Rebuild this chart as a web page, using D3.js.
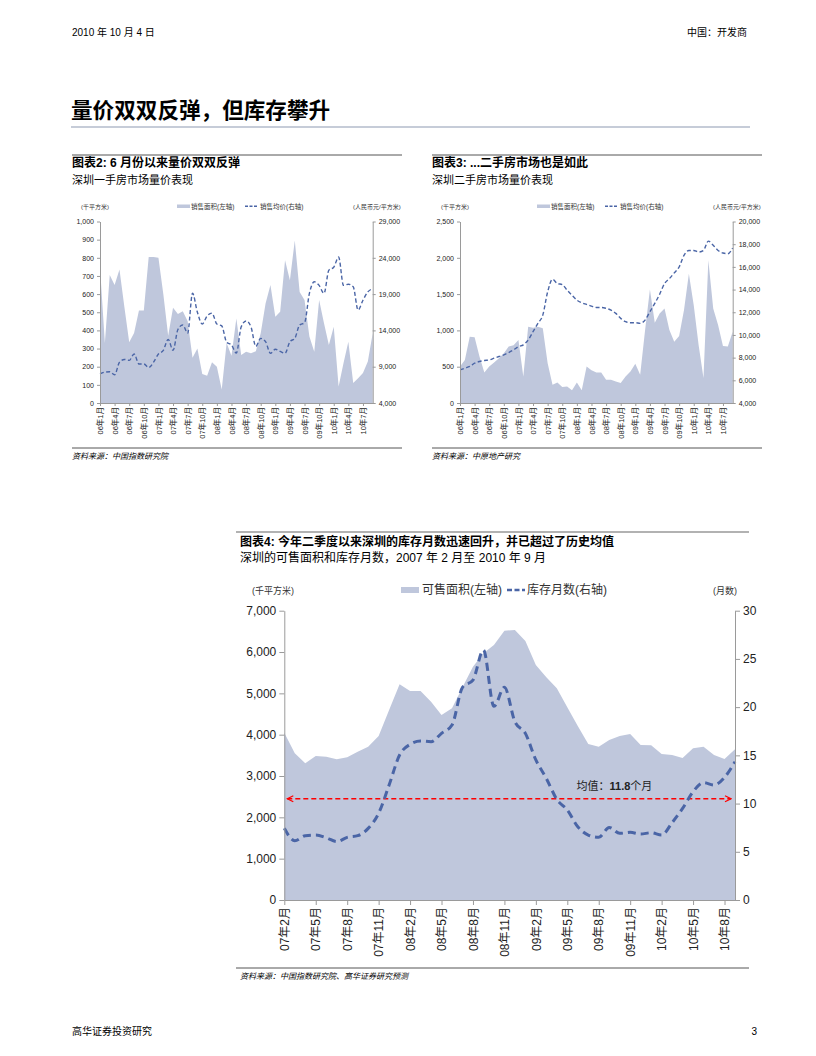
<!DOCTYPE html>
<html><head><meta charset="utf-8">
<script src="https://cdn.jsdelivr.net/npm/d3@7"></script>
<style>
body{margin:0;background:#fff}
svg text{font-family:"Liberation Sans",Arial,"Noto Sans CJK SC",sans-serif}
</style></head><body>
<svg id="c" width="816" height="1056"></svg>
<script>
// ---------- data ----------
const months06 = ["06年1月","06年2月","06年3月","06年4月","06年5月","06年6月","06年7月","06年8月","06年9月","06年10月","06年11月","06年12月",
"07年1月","07年2月","07年3月","07年4月","07年5月","07年6月","07年7月","07年8月","07年9月","07年10月","07年11月","07年12月",
"08年1月","08年2月","08年3月","08年4月","08年5月","08年6月","08年7月","08年8月","08年9月","08年10月","08年11月","08年12月",
"09年1月","09年2月","09年3月","09年4月","09年5月","09年6月","09年7月","09年8月","09年9月","09年10月","09年11月","09年12月",
"10年1月","10年2月","10年3月","10年4月","10年5月","10年6月","10年7月","10年8月","10年9月"];
const ticks06 = ["06年1月","06年4月","06年7月","06年10月","07年1月","07年4月","07年7月","07年10月","08年1月","08年4月","08年7月","08年10月","09年1月","09年4月","09年7月","09年10月","10年1月","10年4月","10年7月"];

// 图表2 深圳一手房
const newArea = [750,330,705,650,735,530,335,385,510,510,805,805,800,600,370,525,490,505,450,250,300,160,150,225,200,75,330,260,466,265,283,274,285,384,548,650,475,503,786,677,896,612,567,366,283,567,439,320,420,91,219,338,110,137,165,229,384];
const newPrice = [8000,8250,8300,7875,9625,10000,9875,10750,9375,9375,8875,9625,10750,11250,12750,11250,14125,14750,13625,19125,16500,14875,16000,16375,14875,14625,12375,12000,10875,14500,15300,14500,11800,12900,12450,10850,11400,11100,10850,12450,12900,14750,15050,19100,20700,20200,19100,22300,22700,24100,20200,20350,20000,16800,18150,19300,19750];
const newLeftTicks = [0,100,200,300,400,500,600,700,800,900,1000];
const newRightTicks = [4000,9000,14000,19000,24000,29000];

// 图表3 深圳二手房
const oldArea = [503,594,914,905,640,420,503,558,617,686,777,795,868,365,1051,1037,1051,1028,548,251,283,219,228,174,283,174,503,450,420,420,320,320,297,274,366,434,539,388,1000,1563,1106,1234,1302,1005,845,923,1280,1782,1348,800,343,1965,1302,1074,786,777,983];
const oldPrice = [6925,7070,7220,7510,7660,7745,7800,7950,8100,8240,8445,8680,8970,9120,9560,10290,11020,11750,13800,14910,14530,14440,13945,13500,13070,12830,12690,12540,12420,12420,12340,12190,11900,11460,11170,11080,11080,11020,11310,12040,12780,13590,14530,14970,15470,15990,17020,17450,17450,17310,17450,18270,17900,17450,17220,17160,17660];
const oldLeftTicks = [0,500,1000,1500,2000,2500];
const oldRightTicks = [4000,6000,8000,10000,12000,14000,16000,18000,20000];

// 图表4 可售面积 & 库存月数
const months07 = ["07年2月","07年3月","07年4月","07年5月","07年6月","07年7月","07年8月","07年9月","07年10月","07年11月","07年12月",
"08年1月","08年2月","08年3月","08年4月","08年5月","08年6月","08年7月","08年8月","08年9月","08年10月","08年11月","08年12月",
"09年1月","09年2月","09年3月","09年4月","09年5月","09年6月","09年7月","09年8月","09年9月","09年10月","09年11月","09年12月",
"10年1月","10年2月","10年3月","10年4月","10年5月","10年6月","10年7月","10年8月","10年9月"];
const ticks07 = ["07年2月","07年5月","07年8月","07年11月","08年2月","08年5月","08年8月","08年11月","09年2月","09年5月","09年8月","09年11月","10年2月","10年5月","10年8月"];
const stockArea = [4049,3549,3307,3484,3468,3403,3452,3589,3710,3968,4597,5218,5057,5057,4798,4476,4637,5145,5645,5968,6170,6516,6532,6266,5686,5387,5121,4662,4210,3774,3710,3871,3968,4016,3750,3742,3532,3508,3436,3670,3710,3508,3411,3645];
const stockMonths = [7.43,6.15,6.67,6.74,6.46,6.05,6.50,6.67,7.43,8.99,11.92,15.03,16.14,16.49,16.42,17.28,18.14,22.05,22.81,25.92,20.08,22.05,18.49,17.28,14.52,12.61,10.44,9.33,7.60,6.74,6.50,7.53,6.91,7.02,6.84,6.98,6.74,8.02,9.50,11.23,12.17,11.92,12.72,14.34];
const stockLeftTicks = [0,1000,2000,3000,4000,5000,6000,7000];
const stockRightTicks = [0,5,10,15,20,25,30];
const avgValue = 11.8;       // 均值 label
const avgArrowLevel = 10.5;  // level at which the arrow is drawn in the source

// ---------- styles ----------
const AREA = "#bfc7dc";
const LINE = "#4a65a6";
const AXIS = "#9a9a9a";
const svg = d3.select("#c");
const fmt = d3.format(",");

function styleAxis(g, fs){
  g.select(".domain").attr("stroke", AXIS);
  g.selectAll(".tick line").attr("stroke", AXIS);
  g.selectAll(".tick text").attr("fill","#222").style("font-size", fs+"px");
}

// ---------- page text ----------
svg.append("text").attr("x",72).attr("y",36).style("font-size","10px").text("2010 年 10 月 4 日");
svg.append("text").attr("x",747).attr("y",36).attr("text-anchor","end").style("font-size","10px").text("中国：开发商");
svg.append("text").attr("x",71).attr("y",118).style("font-size","21.6px").style("font-weight","bold").text("量价双双反弹，但库存攀升");
svg.append("line").attr("x1",71).attr("x2",750).attr("y1",127).attr("y2",127).attr("stroke","#b3bbcb").attr("stroke-width",1.5);
svg.append("text").attr("x",72).attr("y",1035).style("font-size","10px").text("高华证券投资研究");
svg.append("text").attr("x",757).attr("y",1035).attr("text-anchor","end").style("font-size","10px").text("3");

// ---------- small dual-axis chart ----------
function smallChart(o){
  const g = svg.append("g");
  g.append("line").attr("x1",o.hx0).attr("x2",o.hx1).attr("y1",155).attr("y2",155).attr("stroke","#555").attr("stroke-width",1);
  g.append("text").attr("x",o.hx0).attr("y",167).style("font-size","12px").style("font-weight","bold").text(o.title);
  g.append("text").attr("x",o.hx0).attr("y",184).style("font-size","11px").text(o.sub);
  g.append("line").attr("x1",o.hx0).attr("x2",o.hx1).attr("y1",448).attr("y2",448).attr("stroke","#555").attr("stroke-width",1);
  g.append("text").attr("x",o.hx0).attr("y",459).style("font-size","8px").style("font-style","italic").text(o.src);

  const x = d3.scalePoint().domain(months06).range([o.L,o.R]);
  const yL = d3.scaleLinear().domain([0,o.lmax]).range([o.B,o.T]);
  const yR = d3.scaleLinear().domain([4000,o.rmax]).range([o.B,o.T]);

  g.append("path").datum(o.area)
    .attr("d", d3.area().x((d,i)=>x(months06[i])).y0(yL(0)).y1(d=>yL(d)))
    .attr("fill",AREA);
  g.append("path").datum(o.line)
    .attr("d", d3.line().x((d,i)=>x(months06[i])).y(d=>yR(d)).curve(d3.curveMonotoneX))
    .attr("fill","none").attr("stroke",LINE).attr("stroke-width",1.4).attr("stroke-dasharray","4,2.5");

  const ax = g.append("g").attr("transform",`translate(0,${o.B})`)
    .call(d3.axisBottom(x).tickValues(ticks06).tickSize(3).tickSizeOuter(0));
  styleAxis(ax,7.5);
  ax.selectAll(".tick text").attr("transform","rotate(-90)").attr("x",-4).attr("y",0).attr("dy","0.35em").attr("text-anchor","end");
  const al = g.append("g").attr("transform",`translate(${o.L},0)`)
    .call(d3.axisLeft(yL).tickValues(o.lt).tickFormat(fmt).tickSize(3).tickSizeOuter(0));
  styleAxis(al,7);
  const ar = g.append("g").attr("transform",`translate(${o.R},0)`)
    .call(d3.axisRight(yR).tickValues(o.rt).tickFormat(fmt).tickSize(3).tickSizeOuter(0));
  styleAxis(ar,7);

  const ly = o.T-13;
  g.append("text").attr("x",o.L-19).attr("y",ly).style("font-size","6px").attr("fill","#333").text("(千平方米)");
  g.append("text").attr("x",o.R+28).attr("y",ly).attr("text-anchor","end").style("font-size","6px").attr("fill","#333").text("(人民币元/平方米)");
  const lx = o.L+77;
  g.append("rect").attr("x",lx).attr("y",ly-4).attr("width",13).attr("height",3.5).attr("fill",AREA);
  g.append("text").attr("x",lx+14).attr("y",ly).style("font-size","6.5px").attr("fill","#333").text("销售面积(左轴)");
  g.append("line").attr("x1",lx+68).attr("x2",lx+81).attr("y1",ly-2.3).attr("y2",ly-2.3).attr("stroke",LINE).attr("stroke-width",1.4).attr("stroke-dasharray","3,1.5");
  g.append("text").attr("x",lx+83).attr("y",ly).style("font-size","6.5px").attr("fill","#333").text("销售均价(右轴)");
}

smallChart({hx0:72,hx1:402,L:100,R:372.7,T:221.5,B:403,lmax:1000,rmax:29000,lt:newLeftTicks,rt:newRightTicks,
  area:newArea,line:newPrice,title:"图表2: 6 月份以来量价双双反弹",sub:"深圳一手房市场量价表现",src:"资料来源：中国指数研究院"});
smallChart({hx0:432,hx1:762,L:460,R:732.7,T:221.5,B:403,lmax:2500,rmax:20000,lt:oldLeftTicks,rt:oldRightTicks,
  area:oldArea,line:oldPrice,title:"图表3: ...二手房市场也是如此",sub:"深圳二手房市场量价表现",src:"资料来源：中原地产研究"});

// ---------- chart 4 ----------
(function(){
  const L=284.3,R=735,T=610.7,B=900;
  const g = svg.append("g");
  g.append("line").attr("x1",236).attr("x2",749).attr("y1",532).attr("y2",532).attr("stroke","#999").attr("stroke-width",1.5);
  g.append("text").attr("x",240).attr("y",546).style("font-size","12px").style("font-weight","bold").text("图表4: 今年二季度以来深圳的库存月数迅速回升，并已超过了历史均值");
  g.append("text").attr("x",240).attr("y",562).style("font-size","12px").text("深圳的可售面积和库存月数，2007 年 2 月至 2010 年 9 月");
  g.append("line").attr("x1",236).attr("x2",749).attr("y1",968).attr("y2",968).attr("stroke","#555").attr("stroke-width",1);
  g.append("text").attr("x",240).attr("y",979).style("font-size","8px").style("font-style","italic").text("资料来源：中国指数研究院、高华证券研究预测");

  const x = d3.scalePoint().domain(months07).range([L,R]);
  const yL = d3.scaleLinear().domain([0,7000]).range([B,T]);
  const yR = d3.scaleLinear().domain([0,30]).range([B,T]);

  g.append("path").datum(stockArea)
    .attr("d", d3.area().x((d,i)=>x(months07[i])).y0(yL(0)).y1(d=>yL(d)))
    .attr("fill",AREA);

  // average arrow
  const defs = svg.append("defs");
  defs.append("marker").attr("id","arr").attr("viewBox","0 0 8 8").attr("refX",7).attr("refY",4)
    .attr("markerWidth",8).attr("markerHeight",8).attr("markerUnits","userSpaceOnUse").attr("orient","auto-start-reverse")
    .append("path").attr("d","M1,1 L7,4 L1,7").attr("fill","none").attr("stroke","#ff0000").attr("stroke-width",1.3);
  g.append("line").attr("x1",x(months07[0])+3).attr("x2",x(months07[months07.length-1])-4)
    .attr("y1",yR(avgArrowLevel)).attr("y2",yR(avgArrowLevel))
    .attr("stroke","#ff0000").attr("stroke-width",1.4).attr("stroke-dasharray","5,3")
    .attr("marker-start","url(#arr)").attr("marker-end","url(#arr)");
  const lbl = g.append("text").attr("x",(x("09年9月")+x("09年10月"))/2).attr("y",yR(avgValue)+4).attr("text-anchor","middle").style("font-size","11px").attr("fill","#222");
  lbl.append("tspan").text("均值：");
  lbl.append("tspan").style("font-weight","bold").text(avgValue);
  lbl.append("tspan").text("个月");

  g.append("path").datum(stockMonths)
    .attr("d", d3.line().x((d,i)=>x(months07[i])).y(d=>yR(d)).curve(d3.curveMonotoneX))
    .attr("fill","none").attr("stroke",LINE).attr("stroke-width",3).attr("stroke-dasharray","8,5");

  const ax = g.append("g").attr("transform",`translate(0,${B})`)
    .call(d3.axisBottom(x).tickValues(ticks07).tickSize(5).tickSizeOuter(0));
  styleAxis(ax,12);
  ax.selectAll(".tick text").attr("transform","rotate(-90)").attr("x",-7).attr("y",0).attr("dy","0.35em").attr("text-anchor","end");
  const al = g.append("g").attr("transform",`translate(${L},0)`)
    .call(d3.axisLeft(yL).tickValues(stockLeftTicks).tickFormat(fmt).tickSize(5).tickSizeOuter(0));
  styleAxis(al,12);
  const ar = g.append("g").attr("transform",`translate(${R},0)`)
    .call(d3.axisRight(yR).tickValues(stockRightTicks).tickSize(5).tickSizeOuter(0));
  styleAxis(ar,12);

  const ly = 594;
  g.append("text").attr("x",252).attr("y",ly).style("font-size","9px").attr("fill","#333").text("(千平方米)");
  g.append("text").attr("x",737).attr("y",ly).attr("text-anchor","end").style("font-size","9px").attr("fill","#333").text("(月数)");
  g.append("rect").attr("x",401).attr("y",ly-7).attr("width",18).attr("height",6).attr("fill",AREA);
  g.append("text").attr("x",422).attr("y",ly).style("font-size","12px").attr("fill","#333").text("可售面积(左轴)");
  g.append("line").attr("x1",507).attr("x2",525).attr("y1",ly-4).attr("y2",ly-4).attr("stroke",LINE).attr("stroke-width",2.5).attr("stroke-dasharray","5,2.5");
  g.append("text").attr("x",527).attr("y",ly).style("font-size","12px").attr("fill","#333").text("库存月数(右轴)");
})();
</script>
</body></html>
